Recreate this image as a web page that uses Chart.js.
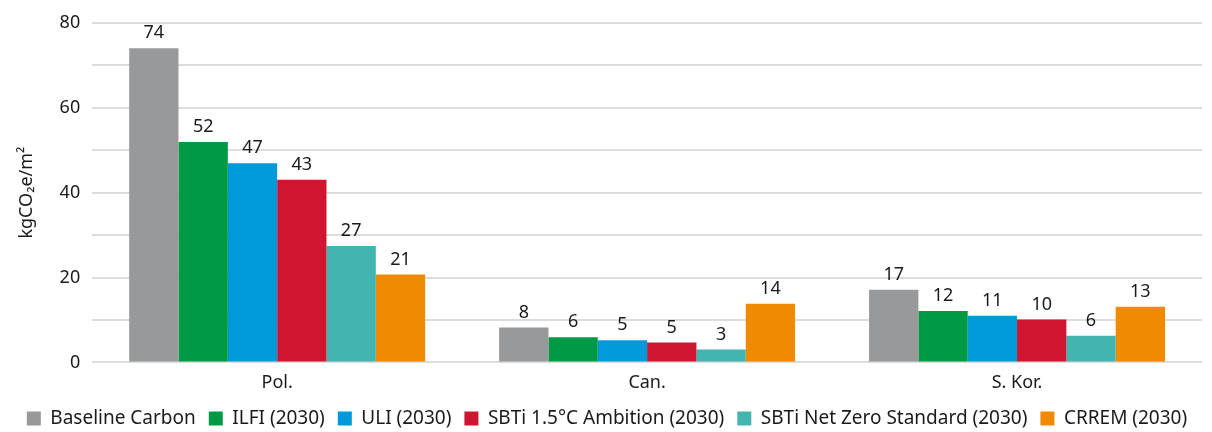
<!DOCTYPE html>
<html>
<head>
<meta charset="utf-8">
<script src="https://cdn.jsdelivr.net/npm/chart.js@4"></script>
<style>
  html, body { margin: 0; padding: 0; background: #fff; }
  #wrap { width: 1212px; height: 432px; position: relative; }
</style>
</head>
<body>
<div id="wrap"><canvas id="chart"></canvas></div>
<script>
// Chart data
const categories = ["Pol.", "Can.", "S. Kor."];
const seriesNames = ["Baseline Carbon", "ILFI (2030)", "ULI (2030)", "SBTi 1.5°C Ambition (2030)", "SBTi Net Zero Standard (2030)", "CRREM (2030)"];
const baselineCarbon = [74, 8.2, 17.1];
const ilfi = [51.9, 5.9, 12.1];
const uli = [46.9, 5.2, 11];
const sbti15 = [43, 4.7, 10.1];
const sbtiNetZero = [27.4, 3.05, 6.3];
const crrem = [20.7, 13.8, 13.1];
const seriesColors = ["#98999b", "#009a45", "#0099d9", "#cf1530", "#43b4af", "#f08a00"];

const FONT = "'Noto Sans', 'Open Sans', sans-serif";

// draw the value labels above each bar
const valueLabels = {
    id: "valueLabels",
    afterDatasetsDraw(chart) {
        const ctx = chart.ctx;
        ctx.save();
        ctx.font = "18px " + FONT;
        ctx.fillStyle = "#1a1a1a";
        ctx.textAlign = "center";
        ctx.textBaseline = "bottom";
        chart.data.datasets.forEach((ds, i) => {
            chart.getDatasetMeta(i).data.forEach((bar, j) => {
                ctx.fillText(Math.round(ds.data[j]), bar.x, bar.y - 6);
            });
        });
        ctx.restore();
    }
};

const allSeries = [baselineCarbon, ilfi, uli, sbti15, sbtiNetZero, crrem];

new Chart(document.getElementById("chart"), {
    type: "bar",
    data: {
        labels: categories,
        datasets: allSeries.map((d, i) => ({
            label: seriesNames[i],
            data: d,
            backgroundColor: seriesColors[i],
            borderWidth: 0,
            categoryPercentage: 0.8,
            barPercentage: 1.0
        }))
    },
    options: {
        responsive: true,
        maintainAspectRatio: false,
        animation: false,
        layout: { padding: { top: 0, right: 10, left: 12, bottom: -6 } },
        plugins: {
            legend: {
                position: "bottom",
                labels: {
                    font: { family: FONT, size: 19 },
                    color: "#1a1a1a",
                    boxWidth: 14,
                    boxHeight: 14,
                    padding: 13
                }
            },
            tooltip: { enabled: false }
        },
        scales: {
            x: {
                grid: { display: false },
                border: { display: false },
                ticks: { font: { family: FONT, size: 18 }, color: "#1a1a1a", padding: 2 }
            },
            y: {
                min: 0,
                max: 80,
                grid: { color: "#dcdcdc", lineWidth: 2, drawTicks: false },
                border: { display: false },
                ticks: {
                    stepSize: 10,
                    font: { family: FONT, size: 18 },
                    color: "#1a1a1a",
                    padding: 12,
                    callback: v => (v % 20 === 0 ? v : "")
                },
                title: {
                    display: true,
                    text: "kgCO₂e/m²",
                    font: { family: FONT, size: 18 },
                    color: "#1a1a1a",
                    padding: { bottom: 10 }
                }
            }
        }
    },
    plugins: [valueLabels]
});
</script>
</body>
</html>
